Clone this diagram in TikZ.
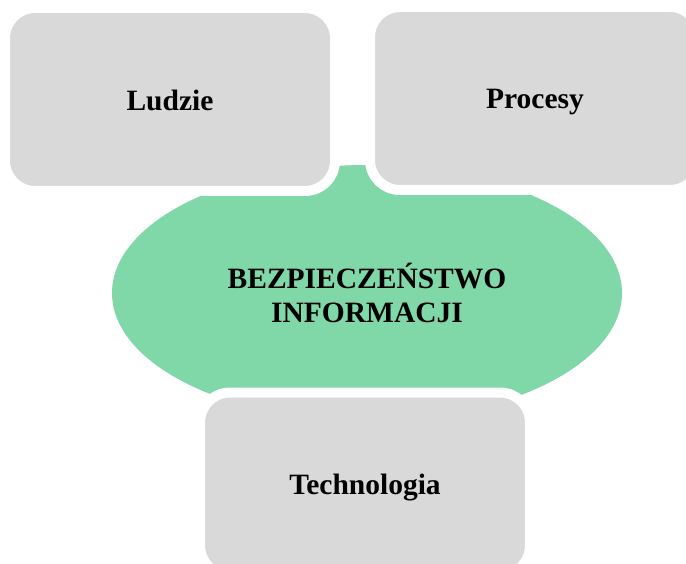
\documentclass[tikz,border=0pt]{standalone}
\usepackage{fontspec}
\setmainfont{Liberation Serif}
\usetikzlibrary{shapes.geometric}
\definecolor{szary}{HTML}{D9D9D9}
\definecolor{zielony}{HTML}{80D7A8}

\begin{document}
\begin{tikzpicture}[
      x=1pt, y=-1pt,
      napis/.style={font=\fontsize{29.5}{34}\selectfont\bfseries, align=center},
      obszar/.style={fill=szary, draw=white, line width=10pt, rounded corners=30pt,
                     minimum width=330pt, minimum height=183pt, inner sep=0pt},
      srodek/.style={ellipse, fill=zielony, inner sep=0pt,
                     minimum width=510pt, minimum height=256pt}
  ]
      \clip (0,0) rectangle (686,564);
      \fill[white] (0,0) rectangle (686,564);

      % Elipsa w tle
      \node[srodek] (bezp) at (367,293) {};
      \node[napis] (bezptxt) at (bezp.center) {BEZPIECZEŃSTWO\\INFORMACJI};

      % Trzy obszary
      \node[obszar] (ludzie)  at (170,99.5) {};
      \node[obszar] (procesy) at (535,98.5) {};
      \node[obszar] (techno)  at (365,484)  {};

      % Napisy obszarow
      \node[napis] (ludzietxt)  at (170,100) {Ludzie};
      \node[napis] (procesytxt) at (535,102) {Procesy};
      \node[napis] (technotxt)  at (365,488) {Technologia};
  \end{tikzpicture}
\end{document}
